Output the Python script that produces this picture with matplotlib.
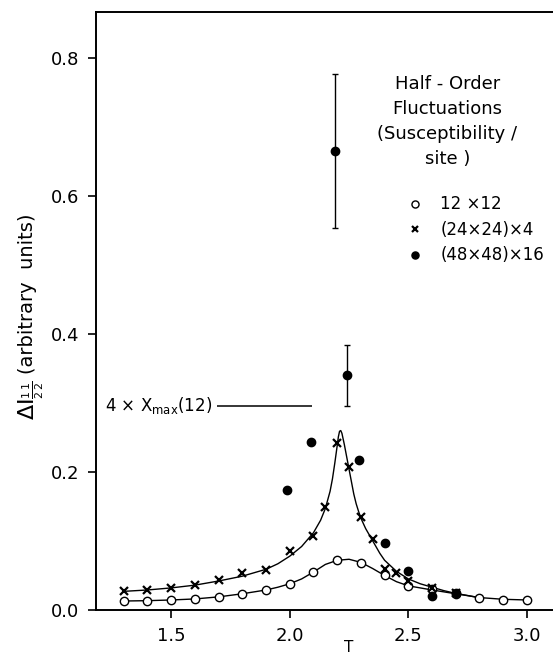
#!/usr/bin/env python3
import matplotlib
matplotlib.use("Agg")
import matplotlib.pyplot as plt
import matplotlib.transforms as mtransforms


# 12x12 lattice (open circles)
T_12 = [1.3, 1.4, 1.5, 1.6, 1.7, 1.8, 1.9, 2.0, 2.1, 2.2, 2.3, 2.4, 2.5, 2.6, 2.7, 2.8, 2.9, 3.0]
CHI_12 = [0.013, 0.013, 0.014, 0.016, 0.0193, 0.0237, 0.029, 0.038, 0.0546, 0.072,
          0.0686, 0.0507, 0.0348, 0.030, 0.0237, 0.017, 0.015, 0.014]

# (24x24)x4 (crosses)
T_24 = [1.3, 1.4, 1.5, 1.6, 1.7, 1.8, 1.9, 2.0, 2.1, 2.15, 2.2, 2.25, 2.3, 2.35, 2.4, 2.45, 2.5, 2.6, 2.7]
CHI_24 = [0.027, 0.0294, 0.0319, 0.0367, 0.043, 0.0536, 0.058, 0.0855, 0.1077, 0.1497,
          0.2425, 0.2068, 0.1343, 0.1034, 0.059, 0.054, 0.0425, 0.0314, 0.025]

# (48x48)x16 (filled dots), two of them with error bars
T_48 = [1.99, 2.09, 2.29, 2.40, 2.50, 2.60, 2.70]
CHI_48 = [0.174, 0.243, 0.217, 0.0975, 0.0565, 0.0203, 0.0242]
T_48_ERR = [2.19, 2.24]
CHI_48_ERR = [0.665, 0.340]
ERR_48 = [0.112, 0.044]

# drawn guide curves
FIT_12_T = [1.3, 1.4, 1.5, 1.6, 1.7, 1.8, 1.9, 1.95, 2.0, 2.05, 2.1, 2.15, 2.2, 2.25,
            2.3, 2.35, 2.4, 2.45, 2.5, 2.55, 2.6, 2.7, 2.8, 2.9, 3.0]
FIT_12 = [0.013, 0.0135, 0.0145, 0.016, 0.019, 0.0235, 0.029, 0.033, 0.038, 0.045,
          0.055, 0.066, 0.072, 0.0735, 0.069, 0.060, 0.050, 0.041, 0.035, 0.032,
          0.029, 0.0235, 0.018, 0.0155, 0.0145]

FIT_24_T = [1.3, 1.4, 1.5, 1.6, 1.7, 1.8, 1.9, 1.95, 2.0, 2.05, 2.1, 2.13, 2.15, 2.17,
            2.18, 2.19, 2.2, 2.205, 2.21, 2.215, 2.22, 2.23, 2.24, 2.25, 2.26, 2.27,
            2.28, 2.29, 2.3, 2.32, 2.35, 2.38, 2.4, 2.45, 2.5, 2.55, 2.6, 2.65, 2.7,
            2.75, 2.78]
FIT_24 = [0.027, 0.029, 0.032, 0.036, 0.042, 0.049, 0.059, 0.067, 0.078, 0.092, 0.112,
          0.130, 0.147, 0.172, 0.190, 0.213, 0.238, 0.251, 0.259, 0.260, 0.256, 0.240,
          0.222, 0.204, 0.186, 0.168, 0.154, 0.143, 0.133, 0.118, 0.100, 0.082, 0.072,
          0.056, 0.045, 0.038, 0.033, 0.028, 0.024, 0.021, 0.019]

CHI_MAX_LEVEL = 0.296
CHI_MAX_SPAN = (1.695, 2.095)

X_TICKS = [1.5, 2.0, 2.5, 3.0]
Y_TICKS = [0.0, 0.2, 0.4, 0.6, 0.8]

LEGEND_LABELS = ["12 \u00d712", "(24\u00d724)\u00d74", "(48\u00d748)\u00d716"]
LEGEND_TITLE = "Half - Order\nFluctuations\n(Susceptibility /\nsite )"


def main() -> int:
    plt.rcParams["font.family"] = ["DejaVu Sans"]
    fig = plt.figure(figsize=(5.53, 6.54), dpi=100)
    ax = fig.add_axes([0.1736, 0.0673, 0.8264, 0.9148])

    ax.plot(FIT_12_T, FIT_12, color="black", lw=1.0)
    ax.plot(FIT_24_T, FIT_24, color="black", lw=1.0)

    h12, = ax.plot(T_12, CHI_12, ls="none", marker="o", ms=6, mfc="white",
                   mec="black", mew=1.0, zorder=3)
    h24, = ax.plot(T_24, CHI_24, ls="none", marker="x", ms=5.5, color="black",
                   mew=1.6, zorder=4)
    h48, = ax.plot(T_48, CHI_48, ls="none", marker="o", ms=6, color="black", zorder=5)
    ax.errorbar(T_48_ERR, CHI_48_ERR, yerr=ERR_48, fmt="o", ms=6, color="black",
                elinewidth=1.0, capsize=2.5, capthick=1.0, zorder=5)

    ax.hlines(CHI_MAX_LEVEL, *CHI_MAX_SPAN, color="black", lw=1.1)
    ax.text(CHI_MAX_SPAN[0] - 0.02, CHI_MAX_LEVEL, r"4 $\times$ X$_{\mathrm{max}}$(12)",
            ha="right", va="center", fontsize=12)

    ax.text(2.665, 0.775, LEGEND_TITLE, ha="center", va="top", fontsize=13,
            linespacing=1.5, multialignment="center")
    ax.legend([h12, h24, h48], LEGEND_LABELS, loc="upper left",
              bbox_to_anchor=(0.648, 0.718), frameon=False, fontsize=12,
              handlelength=1.0, handletextpad=1.0, labelspacing=0.45,
              borderpad=0.4, markerscale=0.85)

    ax.set_xlim(1.183, 3.11)
    ax.set_ylim(0.0, 0.867)
    ax.set_xticks(X_TICKS)
    ax.set_xticklabels([f"{t:.1f}" for t in X_TICKS])
    ax.set_yticks(Y_TICKS)
    ax.set_yticklabels([f"{t:.1f}" for t in Y_TICKS])
    ax.tick_params(direction="out", length=6, width=1.2, labelsize=13, pad=6)

    ax.spines["right"].set_visible(False)
    for side in ("left", "top", "bottom"):
        ax.spines[side].set_linewidth(1.4)

    trans = mtransforms.blended_transform_factory(ax.transData, ax.transAxes)
    ax.text(2.25, -0.05, "T", transform=trans, ha="center", va="top", fontsize=11)

    # y label: the symbol part is set a bit larger so its subscript stays legible
    fig.text(0.030, 0.358, r"$\Delta\mathrm{I}_{\frac{1}{2}\frac{1}{2}}$",
             rotation=90, ha="left", va="bottom", fontsize=16)
    fig.text(0.032, 0.428, "(arbitrary  units)",
             rotation=90, ha="left", va="bottom", fontsize=14)

    fig.savefig("out.png", dpi=100)
    plt.close(fig)
    return 0


if __name__ == "__main__":
    raise SystemExit(main())
